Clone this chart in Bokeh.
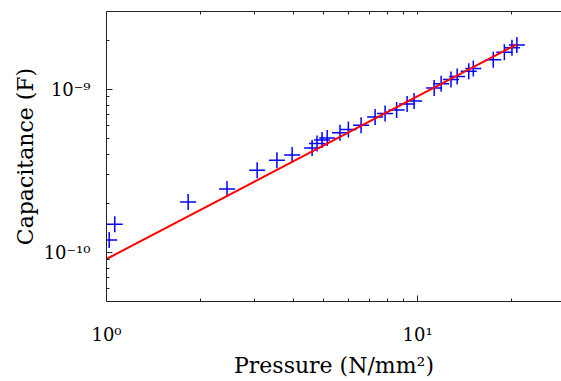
import numpy as np
from bokeh.plotting import figure
from bokeh.models import Range1d, FixedTicker, CustomJSTickFormatter, LogAxis
from bokeh.embed import file_html
from bokeh.resources import INLINE

# Measured data: pressure (N/mm^2) and capacitance (F)
pressure = [1.02, 1.063, 1.83, 2.44, 3.05, 3.53, 3.95, 4.58, 4.75, 4.93, 5.12,
            5.63, 5.99, 6.58, 7.30, 7.86, 8.56, 9.25, 9.74, 11.3, 11.9, 12.8,
            13.4, 14.6, 15.1, 17.5, 19.0, 20.1, 20.84]
capacitance = [1.19e-10, 1.49e-10, 2.04e-10, 2.45e-10, 3.19e-10, 3.67e-10, 3.96e-10,
               4.37e-10, 4.66e-10, 4.89e-10, 5.03e-10, 5.42e-10, 5.67e-10, 6.02e-10,
               6.77e-10, 7.11e-10, 7.47e-10, 8.13e-10, 8.48e-10, 1.02e-9, 1.08e-9,
               1.15e-9, 1.20e-9, 1.29e-9, 1.34e-9, 1.52e-9, 1.69e-9, 1.80e-9, 1.87e-9]

# Power-law fit C = a * P^b
fit_a = 9.11e-11
fit_b = 0.998
fit_p = [1.0, max(pressure)]
fit_c = [fit_a * v ** fit_b for v in fit_p]

x_major = [1, 10]
y_major = [1e-10, 1e-9]

x_minor = [m * 10.0 ** d for d in (0, 1) for m in range(2, 10)]
y_minor = [m * 10.0 ** d for d in (-11, -10, -9) for m in range(2, 10)]

FONT = "DejaVu Serif"
INK = "#222222"

p = figure(width=561, height=381, x_axis_type="log", y_axis_type="log",
           x_range=Range1d(1, 29.0), y_range=Range1d(5e-11, 3e-9),
           output_backend="svg", toolbar_location=None,
           min_border_left=106, min_border_top=11, min_border_right=0,
           min_border_bottom=80)
p.outline_line_color = None
p.grid.visible = False
p.background_fill_color = "white"
p.border_fill_color = "white"

fmt = CustomJSTickFormatter(code="""
const sup = {"-": "\u207b", "0": "\u2070", "1": "\u00b9", "2": "\u00b2", "3": "\u00b3",
             "4": "\u2074", "5": "\u2075", "6": "\u2076", "7": "\u2077", "8": "\u2078", "9": "\u2079"};
const e = Math.round(Math.log10(tick));
return "10" + String(e).split("").map(c => sup[c]).join("");
""")

def style(ax, major, minor):
    ax.ticker = FixedTicker(ticks=major, minor_ticks=minor)
    ax.major_tick_in = 6
    ax.major_tick_out = 0
    ax.minor_tick_in = 3
    ax.minor_tick_out = 0
    ax.axis_line_color = INK
    ax.major_tick_line_color = INK
    ax.minor_tick_line_color = INK
    ax.formatter = fmt
    ax.major_label_text_font = FONT
    ax.major_label_text_font_size = "18px"
    ax.major_label_text_color = "black"
    ax.axis_label_text_font = FONT
    ax.axis_label_text_font_size = "22px"
    ax.axis_label_text_font_style = "normal"
    ax.axis_label_text_color = "black"

style(p.xaxis[0], x_major, x_minor)
style(p.yaxis[0], y_major, y_minor)
p.xaxis[0].axis_label = "Pressure (N/mm\u00b2)"
p.yaxis[0].axis_label = "Capacitance (F)"
p.xaxis[0].major_label_standoff = 22
p.yaxis[0].major_label_standoff = 16
p.xaxis[0].axis_label_standoff = 5
p.yaxis[0].axis_label_standoff = 3

# top spine with inward ticks only (no labels)
top = LogAxis()
style(top, [], x_minor + x_major)
p.add_layout(top, "above")

p.scatter(pressure, capacitance, marker="cross", size=16,
          line_color="#0000ff", line_width=1.5)
p.line(fit_p, fit_c, line_color="#ff0000", line_width=2)

open("out.html", "w").write(file_html(p, INLINE))
